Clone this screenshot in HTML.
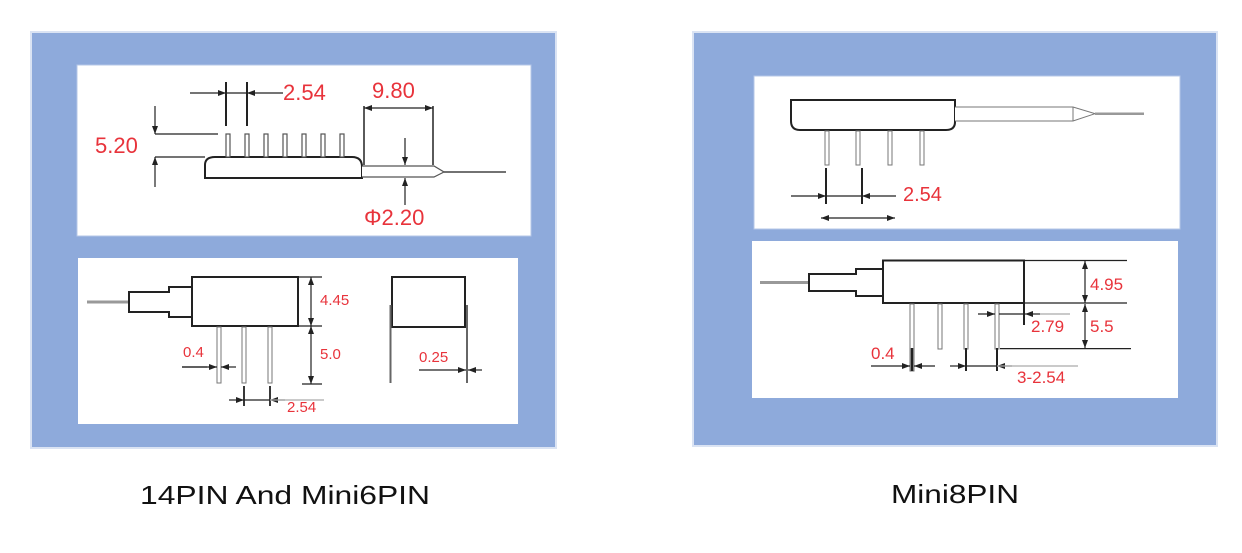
<!DOCTYPE html>
<html><head><meta charset="utf-8"><style>
html,body{margin:0;padding:0;background:#fff;}
svg{display:block;}
.r{fill:#e8333b;font-family:"Liberation Sans",sans-serif;}
.k{stroke:#222;fill:none;}
.g{stroke:#888;fill:#fff;}
</style></head><body>
<svg width="1242" height="553" viewBox="0 0 1242 553" xmlns="http://www.w3.org/2000/svg">
<defs>
<marker id="a" markerWidth="8" markerHeight="6" refX="8" refY="3" orient="auto" markerUnits="userSpaceOnUse"><path d="M0,0 L8,3 L0,6z" fill="#222"/></marker>
</defs>
<!-- Left panel -->
<rect x="31" y="32" width="525" height="416" fill="#8eaadb" stroke="#dae3f3" stroke-width="2"/>
<rect x="77" y="65" width="454" height="171" fill="#fff" stroke="#b4c7e7"/>
<rect x="78" y="258" width="440" height="166" fill="#fff"/>
<!-- top drawing -->
<g class="k" stroke-width="2">
<path d="M205,178 V165 Q205,157 215,157 H352 Q362,157 362,167 V178 Z"/>
</g>
<g stroke="#555" stroke-width="1.2" fill="#fff">
<rect x="226" y="134" width="4" height="23"/><rect x="245" y="134" width="4" height="23"/><rect x="264" y="134" width="4" height="23"/><rect x="283" y="134" width="4" height="23"/><rect x="302" y="134" width="4" height="23"/><rect x="321" y="134" width="4" height="23"/><rect x="340" y="134" width="4" height="23"/>
<path d="M362,166 H434 L444,172 L434,177 H362"/>
</g>
<line x1="444" y1="172" x2="506" y2="172" stroke="#444" stroke-width="1.5"/>
<g stroke="#222" stroke-width="1.2" fill="none">
<line x1="155" y1="134" x2="218" y2="134"/><line x1="155" y1="157" x2="205" y2="157"/>
<line x1="155" y1="106" x2="155" y2="134" marker-end="url(#a)"/><line x1="155" y1="187" x2="155" y2="157" marker-end="url(#a)"/>
<line x1="226" y1="82" x2="226" y2="126" stroke-width="2"/><line x1="247" y1="82" x2="247" y2="126" stroke-width="2"/>
<line x1="190" y1="93" x2="226" y2="93" marker-end="url(#a)"/><line x1="283" y1="93" x2="247" y2="93" marker-end="url(#a)"/>
<line x1="226" y1="93" x2="247" y2="93"/>
<line x1="364" y1="106" x2="364" y2="165" stroke-width="1.5"/><line x1="433" y1="106" x2="433" y2="165" stroke-width="1.5"/>
<line x1="398" y1="108" x2="364" y2="108" marker-end="url(#a)"/><line x1="398" y1="108" x2="433" y2="108" marker-end="url(#a)"/>
<line x1="405" y1="138" x2="405" y2="165" marker-end="url(#a)"/><line x1="405" y1="205" x2="405" y2="178" marker-end="url(#a)"/>
</g>
<text class="r" x="95" y="153" font-size="22">5.20</text>
<text class="r" x="283" y="100" font-size="22">2.54</text>
<text class="r" x="372" y="98" font-size="22">9.80</text>
<text class="r" x="364" y="225" font-size="22">Φ2.20</text>
<!-- bottom drawing -->
<line x1="87" y1="302" x2="129" y2="302" stroke="#999" stroke-width="3"/>
<path class="k" stroke-width="2" fill="#fff" d="M129,292 H169 V287 H192 V317 H169 V312 H129 Z"/>
<rect class="k" stroke-width="2" x="192" y="277" width="106" height="49" fill="#fff"/>
<g stroke="#777" stroke-width="1" fill="#fff">
<rect x="217" y="327" width="4" height="56"/><rect x="242" y="327" width="4" height="56"/><rect x="268" y="327" width="4" height="56"/>
</g>
<g stroke="#222" stroke-width="1.2" fill="none">
<line x1="298" y1="277" x2="322" y2="277"/><line x1="298" y1="326" x2="322" y2="326"/><line x1="302" y1="384" x2="322" y2="384"/>
<line x1="311" y1="300" x2="311" y2="277" marker-end="url(#a)"/><line x1="311" y1="300" x2="311" y2="326" marker-end="url(#a)"/>
<line x1="311" y1="355" x2="311" y2="326" marker-end="url(#a)"/><line x1="311" y1="355" x2="311" y2="384" marker-end="url(#a)"/>
<line x1="182" y1="367" x2="217" y2="367" marker-end="url(#a)"/><line x1="236" y1="367" x2="221" y2="367" marker-end="url(#a)"/>
<line x1="244" y1="386" x2="244" y2="406" stroke-width="1.8"/><line x1="270" y1="386" x2="270" y2="406" stroke-width="1.8"/>
<line x1="229" y1="400" x2="244" y2="400" marker-end="url(#a)"/><line x1="244" y1="400" x2="270" y2="400"/><line x1="285" y1="400" x2="270" y2="400" marker-end="url(#a)"/>
<line x1="270" y1="400" x2="324" y2="400" stroke="#aaa"/>
<line x1="182" y1="367" x2="207" y2="367"/>
</g>
<text class="r" x="320" y="305" font-size="15">4.45</text>
<text class="r" x="320" y="359" font-size="15">5.0</text>
<text class="r" x="183" y="357" font-size="15">0.4</text>
<text class="r" x="287" y="412" font-size="15">2.54</text>
<rect class="k" stroke-width="2" x="392" y="277" width="73" height="50" fill="#fff"/>
<line x1="390.5" y1="305" x2="390.5" y2="383" stroke="#666" stroke-width="2"/>
<line x1="467" y1="305" x2="467" y2="383" stroke="#666" stroke-width="2"/>
<line x1="419" y1="370" x2="466" y2="370" stroke="#222" stroke-width="1.2" marker-end="url(#a)"/>
<line x1="482" y1="370" x2="468" y2="370" stroke="#222" stroke-width="1.2" marker-end="url(#a)"/>
<text class="r" x="419" y="362" font-size="15">0.25</text>
<!-- Right panel -->
<rect x="693" y="32" width="524" height="414" fill="#8eaadb" stroke="#dae3f3" stroke-width="2"/>
<rect x="754" y="76" width="426" height="153" fill="#fff" stroke="#b4c7e7"/>
<rect x="752" y="241" width="426" height="157" fill="#fff"/>
<path class="k" stroke-width="2" fill="#fff" d="M791,100 H955 V122 Q955,130 946,130 H800 Q791,130 791,121 Z"/>
<g stroke="#777" stroke-width="1" fill="#fff">
<path d="M955,107 H1073 L1095,113.7 L1073,121 H955"/>
<line x1="1073" y1="107" x2="1073" y2="121"/>
<rect x="825" y="131" width="4" height="34"/><rect x="856" y="131" width="4" height="34"/><rect x="888" y="131" width="4" height="34"/><rect x="920" y="131" width="4" height="34"/>
</g>
<line x1="1095" y1="113.7" x2="1144" y2="113.7" stroke="#999" stroke-width="2.5"/>
<g stroke="#222" stroke-width="1.2" fill="none">
<line x1="826" y1="168" x2="826" y2="204" stroke-width="2"/><line x1="862" y1="168" x2="862" y2="204" stroke-width="2"/>
<line x1="791" y1="196" x2="826" y2="196" marker-end="url(#a)"/><line x1="826" y1="196" x2="862" y2="196"/><line x1="896" y1="196" x2="862" y2="196" marker-end="url(#a)"/>
<line x1="858" y1="218" x2="821" y2="218" marker-end="url(#a)"/><line x1="858" y1="218" x2="895" y2="218" marker-end="url(#a)"/>
</g>
<text class="r" x="903" y="201" font-size="20">2.54</text>
<line x1="760" y1="282.5" x2="809" y2="282.5" stroke="#999" stroke-width="3"/>
<path class="k" stroke-width="2" fill="#fff" d="M809,274 H856 V269 H883 V296 H856 V291 H809 Z"/>
<rect class="k" stroke-width="2" x="883" y="260.5" width="141" height="42.5" fill="#fff"/>
<g stroke="#777" stroke-width="1" fill="#fff">
<rect x="910" y="304" width="4" height="67"/><rect x="938" y="304" width="4" height="45"/><rect x="964" y="304" width="4" height="45"/><rect x="995" y="304" width="4" height="45"/>
</g>
<g stroke="#222" stroke-width="1.2" fill="none">
<line x1="1024" y1="303" x2="1024" y2="325" stroke-width="2"/>
<line x1="1024" y1="260.5" x2="1127" y2="260.5"/><line x1="1024" y1="303" x2="1127" y2="303"/><line x1="1000" y1="348.6" x2="1131" y2="348.6"/>
<line x1="1085" y1="282" x2="1085" y2="261" marker-end="url(#a)"/><line x1="1085" y1="282" x2="1085" y2="303" marker-end="url(#a)"/>
<line x1="1085" y1="326" x2="1085" y2="304" marker-end="url(#a)"/><line x1="1085" y1="326" x2="1085" y2="348" marker-end="url(#a)"/>
<line x1="978" y1="314" x2="995" y2="314" marker-end="url(#a)"/><line x1="999" y1="314" x2="1024" y2="314"/><line x1="1040" y1="314" x2="1025" y2="314" marker-end="url(#a)"/><line x1="1040" y1="314" x2="1070" y2="314" stroke="#aaa"/>
<line x1="912" y1="348" x2="912" y2="371" stroke-width="2.5"/>
<line x1="871" y1="366" x2="910" y2="366" marker-end="url(#a)"/><line x1="935" y1="366" x2="914" y2="366" marker-end="url(#a)"/>
<line x1="966" y1="348" x2="966" y2="371" stroke-width="2"/><line x1="997" y1="348" x2="997" y2="371" stroke-width="2"/>
<line x1="950" y1="366" x2="966" y2="366" marker-end="url(#a)"/><line x1="966" y1="366" x2="997" y2="366"/><line x1="1012" y1="366" x2="997" y2="366" marker-end="url(#a)"/>
<line x1="997" y1="366" x2="1078" y2="366" stroke="#aaa"/>
</g>
<text class="r" x="1090" y="290" font-size="17">4.95</text>
<text class="r" x="1090" y="332" font-size="17">5.5</text>
<text class="r" x="1031" y="332" font-size="17">2.79</text>
<text class="r" x="871" y="359" font-size="17">0.4</text>
<text class="r" x="1017" y="383" font-size="17">3-2.54</text>
<!-- captions -->
<text x="140" y="504" font-size="26" font-family="'Liberation Sans',sans-serif" fill="#111" textLength="290" lengthAdjust="spacingAndGlyphs">14PIN And Mini6PIN</text>
<text x="891" y="503" font-size="26" font-family="'Liberation Sans',sans-serif" fill="#111" textLength="128" lengthAdjust="spacingAndGlyphs">Mini8PIN</text>
</svg>
</body></html>
